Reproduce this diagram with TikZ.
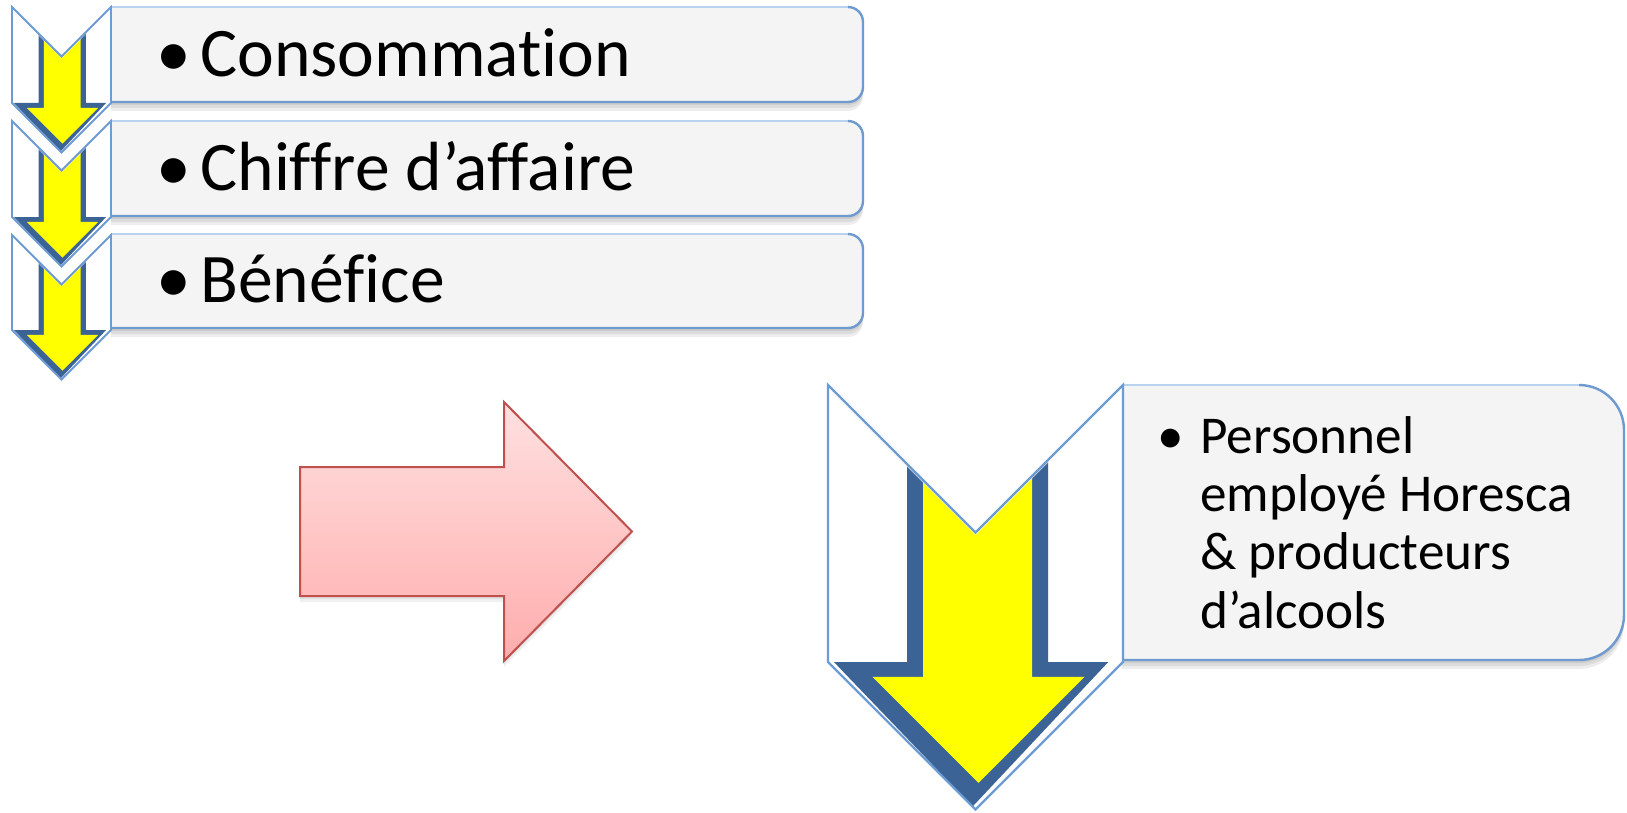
\documentclass[tikz,border=0pt]{standalone}
\usepackage{fontspec}
\setmainfont{Carlito}[Ligatures=NoCommon]
\definecolor{boxfill}{HTML}{F4F4F4}
\definecolor{boxline}{HTML}{6F9AD0}
\definecolor{boxtop}{HTML}{B9D3EE}
\definecolor{chevline}{HTML}{6D9BD3}
\definecolor{darkband}{HTML}{3B6395}
\definecolor{arrowline}{HTML}{C0504D}
\definecolor{arrowtop}{HTML}{FFE0E0}
\definecolor{arrowbot}{HTML}{FFADAD}
\definecolor{yel}{HTML}{FFFF00}

% rounded-right box: x1 y1 x2 y2 r
\newcommand{\rbox}[5]{%
  \pgfmathsetmacro{\bxa}{#1}\pgfmathsetmacro{\bya}{#2}%
  \pgfmathsetmacro{\bxb}{#3}\pgfmathsetmacro{\byb}{#4}%
  \pgfmathsetmacro{\br}{#5}\pgfmathsetmacro{\bk}{0.5523*#5}%
  \foreach \s in {3,6,9}{%
    \fill[black,opacity=0.07,shift={(0,\s)}]
      (\bxa,\bya) -- (\bxb-\br,\bya) .. controls (\bxb-\br+\bk,\bya) and (\bxb,\bya+\br-\bk) .. (\bxb,\bya+\br)
      -- (\bxb,\byb-\br) .. controls (\bxb,\byb-\br+\bk) and (\bxb-\br+\bk,\byb) .. (\bxb-\br,\byb)
      -- (\bxa,\byb) -- cycle;}
  \fill[boxfill]
    (\bxa,\bya) -- (\bxb-\br,\bya) .. controls (\bxb-\br+\bk,\bya) and (\bxb,\bya+\br-\bk) .. (\bxb,\bya+\br)
    -- (\bxb,\byb-\br) .. controls (\bxb,\byb-\br+\bk) and (\bxb-\br+\bk,\byb) .. (\bxb-\br,\byb)
    -- (\bxa,\byb) -- cycle;
  \draw[boxtop,line width=1.2pt] (\bxa,\bya) -- (\bxb-\br,\bya);
  \draw[boxline,line width=1.2pt]
    (\bxb-\br,\bya) .. controls (\bxb-\br+\bk,\bya) and (\bxb,\bya+\br-\bk) .. (\bxb,\bya+\br)
    -- (\bxb,\byb-\br) .. controls (\bxb,\byb-\br+\bk) and (\bxb-\br+\bk,\byb) .. (\bxb-\br,\byb)
    -- (\bxa,\byb);
}

% chevron: x0 y0 W H lw
\newcommand{\mychevron}[5]{%
  \begin{scope}[shift={(#1,#2)}]
    \pgfmathsetmacro{\W}{#3}\pgfmathsetmacro{\H}{#4}\pgfmathsetmacro{\A}{#3/2}%
    \fill[white] (0,0) -- (\A,\A) -- (\W,0) -- (\W,\H) -- (\A,\H+\A) -- (0,\H) -- cycle;
    \begin{scope}
      \clip (0,0) -- (\A,\A) -- (\W,0) -- (\W,\H) -- (\A,\H+\A) -- (0,\H) -- cycle;
      \fill[darkband] (0.268*\W,0) -- (0.268*\W,\H) -- (0.02*\W,\H) -- (0.49*\W,\H+0.49*\W)
        -- (0.95*\W,\H) -- (0.746*\W,\H) -- (0.746*\W,0) -- cycle;
      \fill[yel] (0.322*\W,0) -- (0.322*\W,\H+0.05*\W) -- (0.15*\W,\H+0.05*\W) -- (0.51*\W,\H+0.41*\W)
        -- (0.87*\W,\H+0.05*\W) -- (0.692*\W,\H+0.05*\W) -- (0.692*\W,0) -- cycle;
      \draw[white,opacity=0.7,line width=#5*1.5] (0,0) -- (\A,\A) -- (\W,0);
    \end{scope}
    \draw[chevline,line width=#5,line join=miter] (0,0) -- (\A,\A) -- (\W,0) -- (\W,\H) -- (\A,\H+\A) -- (0,\H) -- cycle;
  \end{scope}
}

\tikzset{
  smalltxt/.style={inner sep=0pt,anchor=base west,font=\fontsize{34.8}{40}\selectfont},
  bigtxt/.style={inner sep=0pt,anchor=base west,font=\fontsize{26.6}{29}\selectfont},
}

\begin{document}
\begin{tikzpicture}[x=0.5pt,y=-0.5pt]
\useasboundingbox (0,0) rectangle (1627,813);
\fill[white] (0,0) rectangle (1627,813);

% small boxes
\rbox{111}{7}{863}{102}{15}
\rbox{111}{121}{863}{216}{15}
\rbox{111}{234}{863}{328}{15}

% small chevrons
\mychevron{12}{7}{99}{96}{0.9pt}
\mychevron{12}{121}{99}{96}{0.9pt}
\mychevron{12}{235}{99}{95}{0.9pt}

% texts of small boxes
\node[smalltxt] (b1) at (156,76) {•};
\node[smalltxt] (t1) at (200,76) {Consommation};
\node[smalltxt] (b2) at (156,190) {•};
\node[smalltxt] (t2) at (200,190) {Chiffre d’affaire};
\node[smalltxt] (b3) at (156,302) {•};
\node[smalltxt] (t3) at (200,302) {Bénéfice};

% red arrow
\foreach \s in {3,6}{%
  \fill[black,opacity=0.06,shift={(0,\s)}] (300,467) -- (504,467) -- (504,402) -- (632,531.5) -- (504,661) -- (504,596) -- (300,596) -- cycle;}
\path[top color=arrowtop,bottom color=arrowbot,draw=arrowline,line width=1pt,line join=miter]
  (300,467) -- (504,467) -- (504,402) -- (632,531.5) -- (504,661) -- (504,596) -- (300,596) -- cycle;

% big box
\rbox{1122}{385}{1624}{660}{45}

% big chevron
\mychevron{828}{385}{295}{277}{1.2pt}

% big text
\node[bigtxt] (bb) at (1157,453) {•};
\node[bigtxt] (p1) at (1200,453) {Personnel};
\node[bigtxt] (p2) at (1200,511) {employé Horesca};
\node[bigtxt] (p3) at (1200,569) {\& producteurs};
\node[bigtxt] (p4) at (1200,628) {d’alcools};
\end{tikzpicture}
\end{document}
